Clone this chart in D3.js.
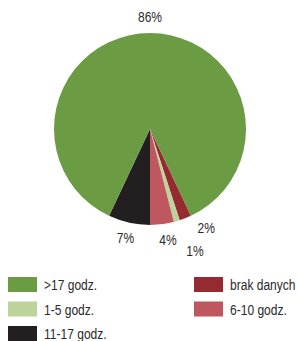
<!DOCTYPE html>
<html>
<head>
<meta charset="utf-8">
<script src="https://cdn.jsdelivr.net/npm/d3@7"></script>
<style>
  body { margin: 0; background: #fff; }
  text { font-family: "Liberation Sans", Arial, sans-serif; fill: #2a2a2a; }
</style>
</head>
<body>
<div id="chart"></div>
<script>
// Data - - - - - - - - - - - - - - - - - - - - - - - - - - - - - - - - - -
// slice order (clockwise), first slice sits just right of 6 o'clock
var categories = ["brak danych", "1-5 godz.", "6-10 godz.", "11-17 godz.", ">17 godz."]
var shares = [2, 1, 4, 7, 86]
var colors = ["#962a31", "#bdd39c", "#bf5760", "#231f20", "#6b9b42"]

// legend layout: two columns
var legendLeft = [">17 godz.", "1-5 godz.", "11-17 godz."]
var legendRight = ["brak danych", "6-10 godz."]

// Canvas - - - - - - - - - - - - - - - - - - - - - - - - - - - - - - - - -
var svgWidth = 297
  , svgHeight = 341
  , cx = 150
  , cy = 129
  , radius = 96
  , labelRadius = 112
  , fontSize = "14.5px"
  , squeeze = "scale(0.83,1)"   // narrow look of the original font

var svg = d3.select("#chart").append("svg")
    .attr("width", svgWidth)
    .attr("height", svgHeight)

var color = d3.scaleOrdinal().domain(categories).range(colors)

var table = categories.map(function(c, i) { return {cat: c, value: shares[i]} })

// first three small slices end at 6 o'clock
var smallSum = d3.sum(shares.slice(0, 3)) / d3.sum(shares)
var start = Math.PI - smallSum * 2 * Math.PI

var pie = d3.pie()
    .sort(null)
    .value(function(d) { return d.value })
    .startAngle(start)
    .endAngle(start + 2 * Math.PI)

var arc = d3.arc().innerRadius(0).outerRadius(radius)

var pieG = svg.append("g")
    .attr("transform", "translate(" + cx + "," + cy + ")")

var arcs = pie(table)

pieG.selectAll("path")
    .data(arcs)
  .enter()
    .append("path")
    .attr("d", arc)
    .attr("fill", function(d) { return color(d.data.cat) })

// label nudges so the thin slices don't collide (angle in degrees, radius px)
var labelAdjust = {
    "brak danych": {da: -8, r: 114},
    "1-5 godz.": {da: -4, r: 130},
    "6-10 godz.": {da: -2, r: 112}
}

pieG.selectAll("text.pct")
    .data(arcs)
  .enter()
    .append("text")
    .attr("class", "pct")
    .attr("text-anchor", "middle")
    .attr("dy", "0.35em")
    .style("font-size", fontSize)
    .attr("transform", function(d) {
        var adj = labelAdjust[d.data.cat] || {da: 0, r: labelRadius}
        var a = (d.startAngle + d.endAngle) / 2 + adj.da * Math.PI / 180
        return "translate(" + (adj.r * Math.sin(a)) + "," + (-adj.r * Math.cos(a)) + ") " + squeeze
    })
    .text(function(d) { return d.data.value + "%" })

// Legend - - - - - - - - - - - - - - - - - - - - - - - - - - - - - - - - -
var rowY = d3.scalePoint().domain(d3.range(3)).range([277, 326])

function drawLegend(items, x0) {
    var g = svg.append("g")
    var rows = g.selectAll("g")
        .data(items)
      .enter()
        .append("g")
        .attr("transform", function(d, i) { return "translate(" + x0 + "," + rowY(i) + ")" })
    rows.append("rect")
        .attr("width", 29)
        .attr("height", 15)
        .attr("fill", function(d) { return color(d) })
    rows.append("text")
        .attr("transform", "translate(36,7.5) " + squeeze)
        .attr("dy", "0.4em")
        .style("font-size", fontSize)
        .text(function(d) { return d })
}

drawLegend(legendLeft, 8)
drawLegend(legendRight, 194)
</script>
</body>
</html>
